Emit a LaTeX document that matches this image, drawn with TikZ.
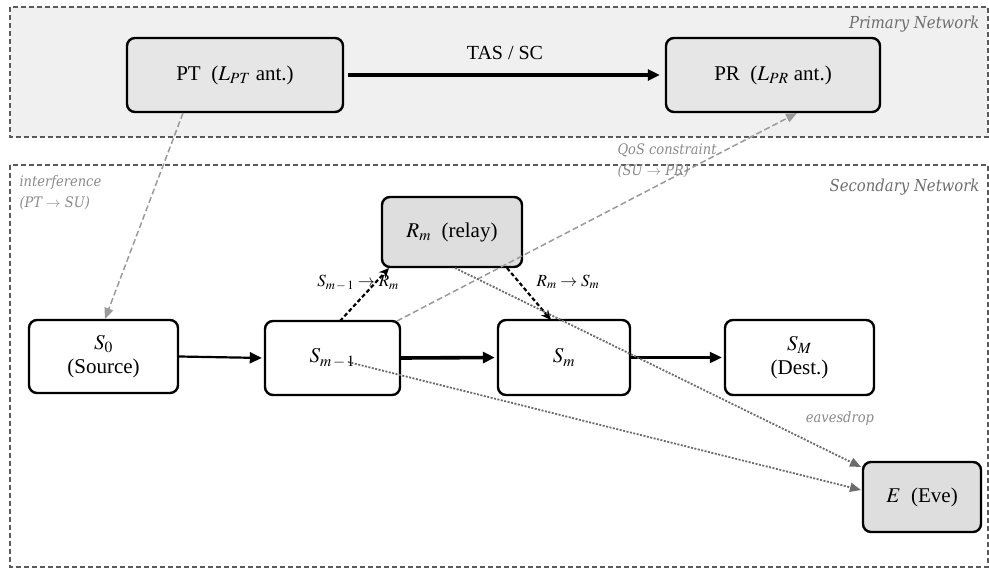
\documentclass[tikz,border=0pt]{standalone}
\usepackage{mathptmx}
\usepackage{fontspec}
\setmainfont{Liberation Serif}
\newfontfamily\lblfont{DejaVu Serif Condensed}
\usetikzlibrary{arrows.meta}
\definecolor{netfill}{HTML}{F0F0F0}
\definecolor{boxfill}{HTML}{E6E6E6}
\definecolor{boxfilltwo}{HTML}{DEDEDE}
\definecolor{netborder}{HTML}{5A5A5A}
\definecolor{lblgray}{HTML}{6E6E6E}
\definecolor{lbllight}{HTML}{8A8A8A}
\definecolor{arrgray}{HTML}{9A9A9A}
\tikzset{
  netbox/.style={draw=netborder, line width=1.1pt, dash pattern=on 5pt off 3pt},
  nodebox/.style={draw=black, line width=2.4pt, rounded corners=8pt, align=center, inner sep=0pt,
     font=\fontsize{21}{24}\selectfont},
  netlabel/.style={font=\lblfont\itshape\fontsize{16.5}{19}\selectfont, text=lblgray},
  smalllabel/.style={font=\lblfont\itshape\fontsize{14.5}{21}\selectfont, text=lbllight, align=left},
  linklabel/.style={font=\fontsize{17}{19}\selectfont},
  mainarrow/.style={draw=black, -{Triangle[length=12pt,width=11pt]}},
  relayarrow/.style={draw=black, line width=2.2pt, dash pattern=on 4pt off 2.5pt, -{Stealth[length=10pt,width=9pt]}},
  grayarrow/.style={draw=arrgray, line width=1.5pt, dash pattern=on 6pt off 3pt, -{Triangle[length=11pt,width=9pt]}},
  eavearrow/.style={draw=gray!85!black, line width=1.8pt, dash pattern=on 2pt off 1.5pt, -{Triangle[length=11pt,width=9pt]}},
}
\begin{document}
\begin{tikzpicture}[x=1pt,y=-1pt]
\useasboundingbox (0,0) rectangle (989,571);
% networks
\draw[netbox, fill=netfill] (10,7) rectangle (988,137);
\draw[netbox] (10,165) rectangle (988,567);
\node[netlabel, anchor=east] (pnlab) at (983,24) {Primary Network};
\node[netlabel, anchor=east] (snlab) at (983,187) {Secondary Network};
% nodes
\node[nodebox, fill=boxfill, minimum width=216pt, minimum height=74pt] (PT) at (235,75) {PT\ \ ($L_{PT}$ ant.)};
\node[nodebox, fill=boxfill, minimum width=214pt, minimum height=74pt] (PR) at (773,75) {PR\ \ ($L_{PR}$ ant.)};
\node[nodebox, fill=boxfilltwo, minimum width=140pt, minimum height=70pt] (Rm) at (452,232) {$R_m$\ \ (relay)};
\node[nodebox, fill=white, minimum width=149pt, minimum height=73pt] (S0) at (103.5,356.5) {$S_0$\\(Source)};
\node[nodebox, fill=white, minimum width=135pt, minimum height=74pt] (Sm1) at (332.5,358) {$S_{m\,-\,1}$};
\node[nodebox, fill=white, minimum width=132pt, minimum height=75pt] (Sm) at (564,357.5) {$S_m$};
\node[nodebox, fill=white, minimum width=149pt, minimum height=75pt] (SM) at (799.5,357.5) {$S_M$\\(Dest.)};
\node[nodebox, fill=boxfilltwo, minimum width=118pt, minimum height=70pt] (E) at (922,497) {$E$\ \ (Eve)};
% primary link
\draw[mainarrow, line width=3.2pt, shorten <=4pt, shorten >=5pt] (PT.east) -- (PR.west);
\node[font=\fontsize{20}{22}\selectfont] (tas) at (505,53) {TAS / SC};
% secondary chain
\draw[mainarrow, line width=2.2pt, shorten >=2pt] (S0.east) -- (Sm1.west);
\draw[mainarrow, line width=3.6pt, shorten >=2pt] (Sm1.east) -- (Sm.west);
\draw[mainarrow, line width=2.2pt, shorten >=2pt] (Sm.east) -- (SM.west);
% relay links
\coordinate (rs) at (340,321);
\coordinate (re) at (389,268);
\draw[relayarrow] (rs) -- (re);
\coordinate (ts) at (507,268);
\coordinate (te) at (551,320);
\draw[relayarrow] (ts) -- (te);
\node[linklabel] (l1) at (358,283) {$S_{m\,-\,1}\rightarrow R_m$};
\node[linklabel] (l2) at (568,282) {$R_m\rightarrow S_m$};
% interference
\coordinate (ia) at (183,113);
\coordinate (ib) at (105,319);
\draw[grayarrow] (ia) -- (ib);
\node[smalllabel, anchor=north west] (intl) at (16,172) {interference\\(PT $\rightarrow$ SU)};
% QoS
\coordinate (qa) at (397,321);
\coordinate (qb) at (797,113);
\draw[grayarrow] (qa) -- (qb);
\node[smalllabel, anchor=north west] (qosl) at (614,140) {QoS constraint\\(SU $\rightarrow$ PR)};
% eavesdrop
\coordinate (ea) at (455,268);
\coordinate (eb) at (861,467);
\draw[eavearrow] (ea) -- (eb);
\coordinate (fa) at (348,362);
\coordinate (fb) at (861,490);
\draw[eavearrow] (fa) -- (fb);
\node[smalllabel] (eavl) at (840,418) {eavesdrop};
\end{tikzpicture}
\end{document}
